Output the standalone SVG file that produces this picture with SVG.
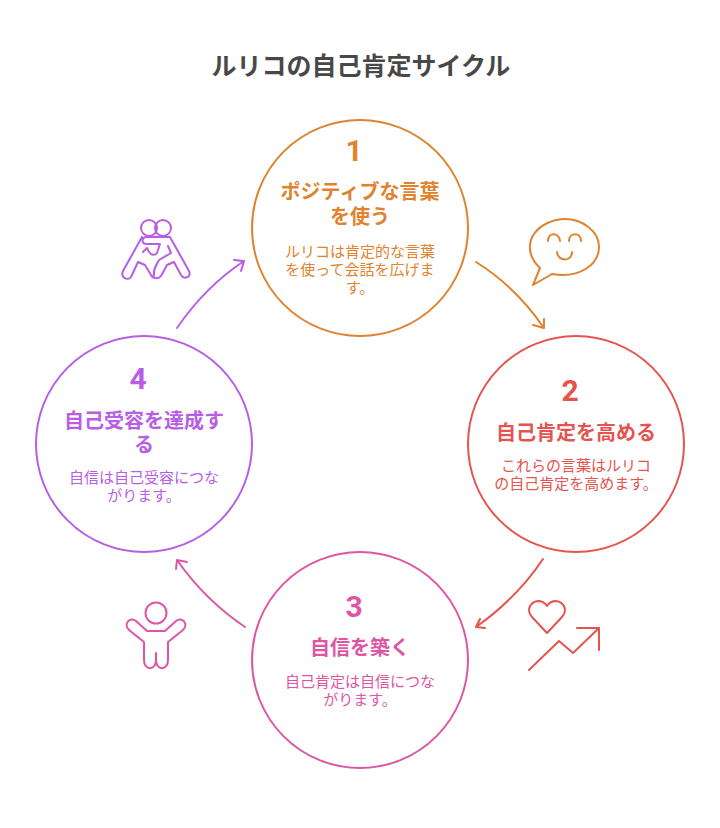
<svg xmlns="http://www.w3.org/2000/svg" width="720" height="828" viewBox="0 0 720 828">
<style>
text{font-family:Roboto,"Noto Sans CJK JP",sans-serif;text-anchor:middle}
.t{font-size:25px;font-weight:700;fill:#484848}
.n{font-size:30px;font-weight:700}
.h{font-size:20px;font-weight:700}
.d{font-size:15px}
.s{fill:none;stroke-width:2;stroke-linecap:round;stroke-linejoin:round}
.o{stroke:#e0822e}.r{stroke:#e5544f}.p{stroke:#df55a5}.v{stroke:#b85ee6}
.fo{fill:#e0822e}.fr{fill:#e5544f}.fp{fill:#df55a5}.fv{fill:#b85ee6}
</style>
<rect width="720" height="828" fill="#fff"/>
<text class="t" x="361" y="75">ルリコの自己肯定サイクル</text>
<g id="connectors">
<path class="s o" d="M476 262Q516 287 544 328M533 325L544 328L544 319"/>
<path class="s r" d="M543 559Q517 598 476 627M485 628L476 627L480 619"/>
<path class="s p" d="M245 627Q205 600 177 560M176 569L177 560L187 562"/>
<path class="s v" d="M177 328Q205 287 244 261M234 260L244 261L241 271"/>
</g>
<g id="node1">
<circle class="s o" cx="360" cy="228" r="108"/>
<text class="n fo" x="354" y="161">1</text>
<text class="h fo" x="360" y="199">ポジティブな言葉</text>
<text class="h fo" x="360" y="224">を使う</text>
<text class="d fo" x="360" y="257">ルリコは肯定的な言葉</text>
<text class="d fo" x="360" y="275">を使って会話を広げま</text>
<text class="d fo" x="360" y="293">す。</text>
</g>
<g id="node2">
<circle class="s r" cx="576" cy="444" r="108"/>
<text class="n fr" x="570" y="401">2</text>
<text class="h fr" x="576" y="440">自己肯定を高める</text>
<text class="d fr" x="576" y="471">これらの言葉はルリコ</text>
<text class="d fr" x="576" y="489">の自己肯定を高めます。</text>
</g>
<g id="node3">
<circle class="s p" cx="360" cy="660" r="108"/>
<text class="n fp" x="354" y="617">3</text>
<text class="h fp" x="360" y="655">自信を築く</text>
<text class="d fp" x="360" y="687">自己肯定は自信につな</text>
<text class="d fp" x="360" y="705">がります。</text>
</g>
<g id="node4">
<circle class="s v" cx="144" cy="444" r="108"/>
<text class="n fv" x="138" y="389">4</text>
<text class="h fv" x="144" y="428">自己受容を達成す</text>
<text class="h fv" x="144" y="452">る</text>
<text class="d fv" x="144" y="483">自信は自己受容につな</text>
<text class="d fv" x="144" y="501">がります。</text>
</g>
<g id="icon-speech">
<path class="s o" d="M540 268C529 258 527 244 534 234C541 224 554 219 565 219C582 219 599 231 599 247C599 264 580 279 552 274L533 285Z"/>
<path class="s o" d="M548 241C548 232 559 232 560 241M569 241C569 232 581 232 581 241M557 252C558 262 572 262 572 252"/>
</g>
<g id="icon-heart">
<path class="s r" d="M547 633L532 617C526 610 530 602 538 601C542 601 545 603 547 606C549 603 552 601 556 601C564 602 568 610 562 617Z"/>
<path class="s r" d="M529 670L559 641L573 653L599 628M577 628H599V650"/>
</g>
<g id="icon-person">
<circle class="s p" cx="156" cy="613" r="10.500"/>
<path class="s p" d="M147 631H165L176 621C182 616 189 624 183 630L168 642V660C168 671 156 671 156 660C156 671 144 671 144 660V642L129 630C123 624 130 616 136 621ZM156 660V653"/>
</g>
<g id="icon-hug">
<circle class="s v" cx="149" cy="228" r="8"/><circle class="s v" cx="163" cy="228" r="8"/>
<path class="s v" d="M142 237L123 271C120 278 128 281 131 277L138 262L145 265L151 275C153 279 159 279 161 276L167 265L174 262L181 275C184 280 192 277 189 271L170 237H147C141 237 141 244 147 244H160L157 253C155 256 151 255 149 252L147 248L143 252"/>
<path class="s v" d="M168 246L171 253L159 260C156 265 153 270 154 276"/>
</g>
</svg>
